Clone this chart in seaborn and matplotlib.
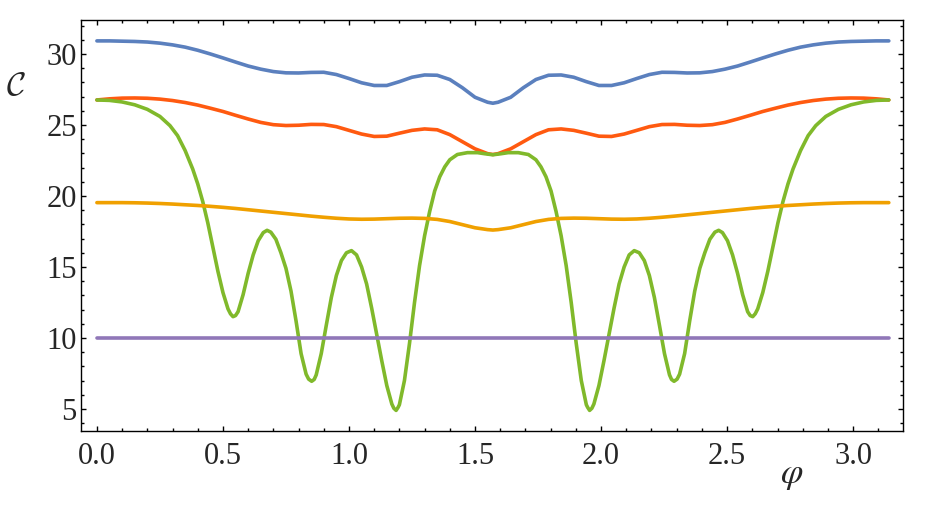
import matplotlib
matplotlib.use('Agg')
import matplotlib.pyplot as plt
import seaborn as sns
from matplotlib.ticker import MultipleLocator, FormatStrFormatter

# phi grid for the smooth curves
phi = [0.00, 0.05, 0.10, 0.15, 0.20, 0.25, 0.30, 0.35, 0.40, 0.45, 0.50,
       0.55, 0.60, 0.65, 0.70, 0.75, 0.80, 0.85, 0.90, 0.95, 1.00, 1.05,
       1.10, 1.15, 1.20, 1.25, 1.30, 1.35, 1.40, 1.45, 1.50, 1.55, 1.5708,
       1.5916, 1.6416, 1.6916, 1.7416, 1.7916, 1.8416, 1.8916, 1.9416,
       1.9916, 2.0416, 2.0916, 2.1416, 2.1916, 2.2416, 2.2916, 2.3416,
       2.3916, 2.4416, 2.4916, 2.5416, 2.5916, 2.6416, 2.6916, 2.7416,
       2.7916, 2.8416, 2.8916, 2.9416, 2.9916, 3.0416, 3.0916, 3.1416]

blue = [30.92, 30.92, 30.90, 30.88, 30.84, 30.76, 30.64, 30.48, 30.26, 30.00,
        29.72, 29.43, 29.15, 28.93, 28.76, 28.67, 28.66, 28.70, 28.71, 28.55,
        28.27, 27.97, 27.78, 27.78, 28.05, 28.36, 28.52, 28.50, 28.20, 27.62,
        26.95, 26.60, 26.53,
        26.60, 26.95, 27.62, 28.20, 28.50, 28.52, 28.36, 28.05, 27.78, 27.78,
        27.97, 28.27, 28.55, 28.71, 28.70, 28.66, 28.67, 28.76, 28.93, 29.15,
        29.43, 29.72, 30.00, 30.26, 30.48, 30.64, 30.76, 30.84, 30.88, 30.90,
        30.92, 30.92]

red = [26.76, 26.84, 26.89, 26.90, 26.88, 26.82, 26.72, 26.58, 26.40, 26.18,
       25.95, 25.68, 25.42, 25.18, 25.02, 24.96, 24.98, 25.04, 25.03, 24.88,
       24.62, 24.36, 24.19, 24.21, 24.42, 24.62, 24.72, 24.66, 24.32, 23.82,
       23.32, 22.98, 22.92,
       22.98, 23.32, 23.82, 24.32, 24.66, 24.72, 24.62, 24.42, 24.21, 24.19,
       24.36, 24.62, 24.88, 25.03, 25.04, 24.98, 24.96, 25.02, 25.18, 25.42,
       25.68, 25.95, 26.18, 26.40, 26.58, 26.72, 26.82, 26.88, 26.90, 26.89,
       26.84, 26.76]

orange = [19.53, 19.53, 19.53, 19.52, 19.50, 19.47, 19.43, 19.38, 19.33, 19.27,
          19.20, 19.12, 19.03, 18.94, 18.85, 18.76, 18.67, 18.58, 18.50, 18.43,
          18.38, 18.36, 18.37, 18.40, 18.43, 18.44, 18.42, 18.35, 18.20, 17.98,
          17.76, 17.63, 17.60,
          17.63, 17.76, 17.98, 18.20, 18.35, 18.42, 18.44, 18.43, 18.40, 18.37,
          18.36, 18.38, 18.43, 18.50, 18.58, 18.67, 18.76, 18.85, 18.94, 19.03,
          19.12, 19.20, 19.27, 19.33, 19.38, 19.43, 19.47, 19.50, 19.52, 19.53,
          19.53, 19.53]

phi_flat = [0.0, 3.1416]
purple = [10.0, 10.0]

# denser grid for the oscillating curve
phi_green = [0.00, 0.05, 0.10, 0.15, 0.20, 0.25, 0.29, 0.32, 0.35, 0.38, 0.40,
             0.42, 0.44, 0.46, 0.48, 0.50, 0.52, 0.53, 0.54, 0.55, 0.56, 0.58,
             0.60, 0.62, 0.64, 0.66, 0.675, 0.69, 0.71, 0.73, 0.75, 0.77, 0.79,
             0.81, 0.83, 0.84, 0.852, 0.862, 0.87, 0.89, 0.91, 0.93, 0.95, 0.97,
             0.99, 1.01, 1.03, 1.05, 1.07, 1.09, 1.11, 1.13, 1.15, 1.17, 1.178,
             1.187, 1.195, 1.20, 1.22, 1.24, 1.26, 1.28, 1.30, 1.32, 1.34, 1.36,
             1.38, 1.40, 1.43, 1.47, 1.51, 1.54, 1.5708,
             1.6016, 1.6316, 1.6716, 1.7116, 1.7416, 1.7616, 1.7816, 1.8016,
             1.8216, 1.8416, 1.8616, 1.8816, 1.9016, 1.9216, 1.9416, 1.9466,
             1.9546, 1.9636, 1.9716, 1.9916, 2.0116, 2.0316, 2.0516, 2.0716,
             2.0916, 2.1116, 2.1316, 2.1516, 2.1716, 2.1916, 2.2116, 2.2316,
             2.2516, 2.2716, 2.2796, 2.2896, 2.3016, 2.3116, 2.3316, 2.3516,
             2.3716, 2.3916, 2.4116, 2.4316, 2.4516, 2.4666, 2.4816, 2.5016,
             2.5216, 2.5416, 2.5616, 2.5816, 2.5916, 2.6016, 2.6116, 2.6216,
             2.6416, 2.6616, 2.6816, 2.7016, 2.7216, 2.7416, 2.7616, 2.7916,
             2.8216, 2.8516, 2.8916, 2.9416, 2.9916, 3.0416, 3.0916, 3.1416]

green = [26.76, 26.73, 26.62, 26.42, 26.10, 25.60, 24.95, 24.25, 23.20, 21.90,
         20.85, 19.60, 18.10, 16.40, 14.70, 13.20, 12.05, 11.70, 11.50, 11.58,
         11.85, 13.05, 14.55, 15.85, 16.85, 17.42, 17.58, 17.45, 16.95, 16.00,
         14.90, 13.30, 11.20, 8.90, 7.45, 7.10, 6.95, 7.08, 7.40, 8.90,
         10.90, 12.85, 14.40, 15.45, 16.00, 16.15, 15.85, 15.00, 13.80, 12.10,
         10.25, 8.40, 6.65, 5.35, 5.05, 4.90, 5.12, 5.30, 7.00, 9.60,
         12.50, 15.10, 17.20, 18.90, 20.35, 21.35, 22.05, 22.55, 22.92, 23.05,
         23.05, 22.97, 22.90,
         22.97, 23.05, 23.05, 22.92, 22.55, 22.05, 21.35, 20.35, 18.90, 17.20,
         15.10, 12.50, 9.60, 7.00, 5.30, 5.12, 4.90, 5.05, 5.35, 6.65,
         8.40, 10.25, 12.10, 13.80, 15.00, 15.85, 16.15, 16.00, 15.45, 14.40,
         12.85, 10.90, 8.90, 7.40, 7.08, 6.95, 7.10, 7.45, 8.90, 11.20,
         13.30, 14.90, 16.00, 16.95, 17.45, 17.58, 17.42, 16.85, 15.85, 14.55,
         13.05, 11.85, 11.58, 11.50, 11.70, 12.05, 13.20, 14.70, 16.40, 18.10,
         19.60, 20.85, 21.90, 23.20, 24.25, 24.95, 25.60, 26.10, 26.42, 26.62,
         26.73, 26.76]

sns.set_style('ticks')
plt.rcParams['font.family'] = ['Liberation Serif', 'DejaVu Serif']
plt.rcParams['mathtext.fontset'] = 'stix'

fig = plt.figure(figsize=(9.26, 5.08), dpi=100)
ax = fig.add_axes([0.0875, 0.1516, 0.8877, 0.809])

lw = 2.6
style = dict(lw=lw, estimator=None, solid_joinstyle='round')
sns.lineplot(x=phi, y=blue, ax=ax, color='#5B80BE', **style)
sns.lineplot(x=phi, y=red, ax=ax, color='#FF5A10', **style)
sns.lineplot(x=phi_green, y=green, ax=ax, color='#80B92B', **style)
sns.lineplot(x=phi, y=orange, ax=ax, color='#F0A000', **style)
sns.lineplot(x=phi_flat, y=purple, ax=ax, color='#9077B8', **style)

ax.set_xlim(-0.063, 3.198)
ax.set_ylim(3.45, 32.39)
ax.xaxis.set_major_locator(MultipleLocator(0.5))
ax.xaxis.set_minor_locator(MultipleLocator(0.1))
ax.xaxis.set_major_formatter(FormatStrFormatter('%.1f'))
ax.yaxis.set_major_locator(MultipleLocator(5))
ax.yaxis.set_minor_locator(MultipleLocator(1))

for s in ax.spines.values():
    s.set_linewidth(1.0)
    s.set_color('black')
ax.tick_params(which='both', direction='in', top=True, right=True,
               width=1.0, color='black')
ax.tick_params(which='major', length=3.6)
ax.tick_params(which='minor', length=1.9)
ax.tick_params(axis='x', labelsize=22, pad=8)
ax.tick_params(axis='y', labelsize=22, pad=3)
ax.set_xlabel('')
ax.set_ylabel('')

fig.text(16 / 926, 1 - 87 / 508, r'$\mathcal{C}$', fontsize=24,
         ha='center', va='center', math_fontfamily='cm')
fig.text(792 / 926, 1 - 476 / 508, r'$\varphi$', fontsize=26,
         ha='center', va='center')

fig.savefig('out.png', dpi=100)
